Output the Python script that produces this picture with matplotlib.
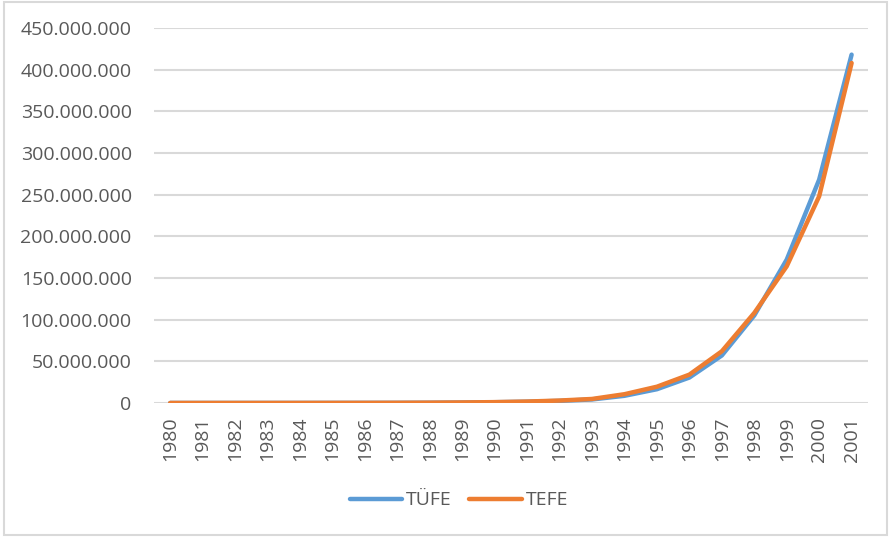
import matplotlib
matplotlib.use("Agg")
import matplotlib.pyplot as plt
from matplotlib.patches import Rectangle
from matplotlib.ticker import FuncFormatter

years = [str(y) for y in range(1980, 2002)]
# values (index points)
tufe = [15e3, 22e3, 29e3, 37e3, 55e3, 85e3, 120e3, 170e3, 300e3, 550e3, 0.9e6,
        1.5e6, 2.5e6, 4.2e6, 8.6e6, 16.5e6, 30.5e6, 57e6, 105e6, 172e6, 268e6, 418e6]
tefe = [16e3, 24e3, 31e3, 40e3, 62e3, 95e3, 130e3, 200e3, 350e3, 620e3, 1.0e6,
        1.7e6, 2.9e6, 4.8e6, 10.5e6, 19.5e6, 34e6, 62e6, 108e6, 164e6, 248e6, 408e6]

plt.rcParams['font.family'] = ['Open Sans', 'DejaVu Sans']
txt = '#595959'

fig = plt.figure(figsize=(8.91, 5.38), dpi=100)
ax = fig.add_axes([0.1728, 0.251, 0.8012, 0.697])

x = list(range(len(years)))
ax.plot(x, tufe, color='#5B9BD5', lw=3.2, label='TÜFE', solid_capstyle='round', zorder=3)
ax.plot(x, tefe, color='#ED7D31', lw=3.2, label='TEFE', solid_capstyle='round', zorder=4)

ax.set_xlim(-0.5, len(years) - 0.5)
ax.set_ylim(0, 450e6)
ax.set_yticks(range(0, 450000001, 50000000))
ax.yaxis.set_major_formatter(FuncFormatter(lambda v, p: f"{int(v):,}".replace(",", ".")))
ax.set_xticks(x)
ax.set_xticklabels(years, rotation=90)
ax.tick_params(axis='y', length=0, pad=16, labelsize=14, labelcolor=txt)
ax.tick_params(axis='x', length=0, pad=10, labelsize=14, labelcolor=txt)
ax.grid(axis='y', color='#D9D9D9', lw=1.5)
ax.set_axisbelow(True)
for s in ax.spines.values():
    s.set_visible(False)

leg = fig.legend(loc='center', bbox_to_anchor=(0.515, 0.07), ncol=2, frameon=False,
                 fontsize=14, handlelength=2.7, handletextpad=0.2, columnspacing=0.9)
for t in leg.get_texts():
    t.set_color(txt)

fig.patches.append(Rectangle((0.004, 0.006), 0.992, 0.99, transform=fig.transFigure,
                             fill=False, edgecolor='#D9D9D9', lw=1.5))

fig.savefig('out.png', dpi=100)
